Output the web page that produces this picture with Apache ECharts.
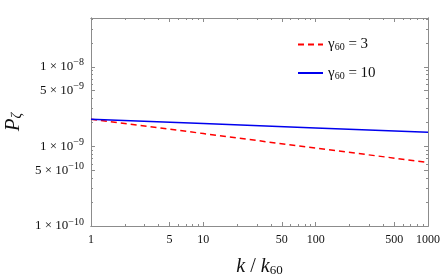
<!DOCTYPE html>
<html><head><meta charset="utf-8">
<script src="https://cdn.jsdelivr.net/npm/echarts@6/dist/echarts.min.js"></script>
<style>html,body{margin:0;padding:0;background:#fff}#c{width:442px;height:278px}</style>
</head><body><div id="c"></div>
<script>
// Data
const kValues = [1, 10, 100, 1000];
const gamma3 = [2.2e-9, 1.45e-9, 9.5e-10, 6.3e-10];
const gamma10 = [2.2e-9, 1.94e-9, 1.70e-9, 1.50e-9];
const seriesNames = ['γ60 = 3', 'γ60 = 10'];
const xMajorTicks = [1, 5, 10, 50, 100, 500, 1000];
const yMajorTicks = [1e-10, 5e-10, 1e-9, 5e-9, 1e-8];
const xRange = [1, 1000];
const yRange = [1e-10, 4.1e-8];

const L = Math.log10;
function minorTicks(lo, hi, majors) {
  const out = [];
  for (let e = Math.floor(L(lo)); e <= Math.ceil(L(hi)); e++) {
    for (let m = 1; m <= 9; m++) {
      const v = m * Math.pow(10, e);
      if (v >= lo * 0.9999 && v <= hi * 1.0001 && !majors.some(t => Math.abs(t - v) / v < 1e-6)) out.push(L(v));
    }
  }
  return out;
}
const xMinor = minorTicks(xRange[0], xRange[1], xMajorTicks);
const yMinor = minorTicks(yRange[0], yRange[1], yMajorTicks);
const xMaj = xMajorTicks.map(L), yMaj = yMajorTicks.map(L);

const frame = '#8c8c8c';
const font = 'Liberation Serif';
function xAx(pos, ticks, len, labels) {
  return {
    type: 'value', position: pos, offset: 0, min: L(xRange[0]), max: L(xRange[1]),
    axisLine: { show: true, onZero: false, lineStyle: { color: frame, width: 1 } },
    axisTick: { show: true, inside: true, length: len, customValues: ticks, lineStyle: { color: frame } },
    axisLabel: labels ? { show: true, customValues: xMaj, color: '#111', fontFamily: font, fontSize: 12, margin: 8,
      formatter: v => String(Math.round(Math.pow(10, v))) } : { show: false },
    splitLine: { show: false }
  };
}
function yAx(pos, ticks, len, labels) {
  return {
    type: 'value', position: pos, offset: 0, min: L(yRange[0]), max: L(yRange[1]),
    axisLine: { show: true, onZero: false, lineStyle: { color: frame, width: 1 } },
    axisTick: { show: true, inside: true, length: len, customValues: ticks, lineStyle: { color: frame } },
    axisLabel: labels ? { show: true, customValues: yMaj, color: '#111', fontFamily: font, fontSize: 13, margin: 7,
      formatter: v => {
        const e = Math.floor(v + 1e-9);
        const m = Math.round(Math.pow(10, v - e));
        return m + ' × 10{s|−' + (-e) + '}';
      },
      rich: { s: { fontSize: 10, fontFamily: font, color: '#111', padding: [0, 0, 8, 0] } }
    } : { show: false },
    splitLine: { show: false }
  };
}

const xAxes = [xAx('bottom', xMaj, 4, true), xAx('bottom', xMinor, 2, false), xAx('top', xMaj, 4, false), xAx('top', xMinor, 2, false)];
const yAxes = [yAx('left', yMaj, 4, true), yAx('left', yMinor, 2, false), yAx('right', yMaj, 4, false), yAx('right', yMinor, 2, false)];
Object.assign(xAxes[0], {
  name: '{i|k} / {i|k}{s|60}', nameLocation: 'middle', nameGap: 30,
  nameTextStyle: { fontFamily: font, fontSize: 20, color: '#111',
    rich: { i: { fontStyle: 'italic', fontFamily: font, fontSize: 20, color: '#111' }, s: { fontFamily: font, fontSize: 13, color: '#111', padding: [8, 0, 0, 0] } } }
});
Object.assign(yAxes[0], {
  name: '{i|P}{s|ζ}', nameLocation: 'middle', nameGap: 66, nameRotate: 90,
  nameTextStyle: { fontFamily: font, fontSize: 20, color: '#111',
    rich: { i: { fontStyle: 'italic', fontFamily: font, fontSize: 21, color: '#111' }, s: { fontStyle: 'italic', fontFamily: font, fontSize: 14, color: '#111', padding: [8, 0, 0, 0] } } }
});

const chart = echarts.init(document.getElementById('c'), null, { renderer: 'canvas' });
chart.setOption({
  animation: false,
  backgroundColor: '#fff',
  grid: { left: 91, right: 14, top: 18, bottom: 52, containLabel: false, outerBoundsMode: 'none' },
  xAxis: xAxes,
  yAxis: yAxes,
  legend: {
    orient: 'vertical', left: 297, top: 37, padding: 0, itemWidth: 25, itemHeight: 10, itemGap: 13,
    data: seriesNames,
    itemStyle: { opacity: 0, color: 'transparent', borderWidth: 0 },
    formatter: n => n.replace('γ60', 'γ{s|60}'),
    textStyle: { fontFamily: font, fontSize: 15, color: '#111',
      rich: { s: { fontFamily: font, fontSize: 10, color: '#111', padding: [6, 0, 0, 0] } } }
  },
  series: [
    { name: seriesNames[0], type: 'line', showSymbol: false, symbol: 'none', color: '#ff0000',
      lineStyle: { color: '#ff0000', width: 1.5, type: [6, 4] },
      data: kValues.map((k, i) => [L(k), L(gamma3[i])]) },
    { name: seriesNames[1], type: 'line', showSymbol: false, symbol: 'none', color: '#0000ee',
      lineStyle: { color: '#0000ee', width: 1.5 },
      data: kValues.map((k, i) => [L(k), L(gamma10[i])]) }
  ]
});
</script></body></html>
